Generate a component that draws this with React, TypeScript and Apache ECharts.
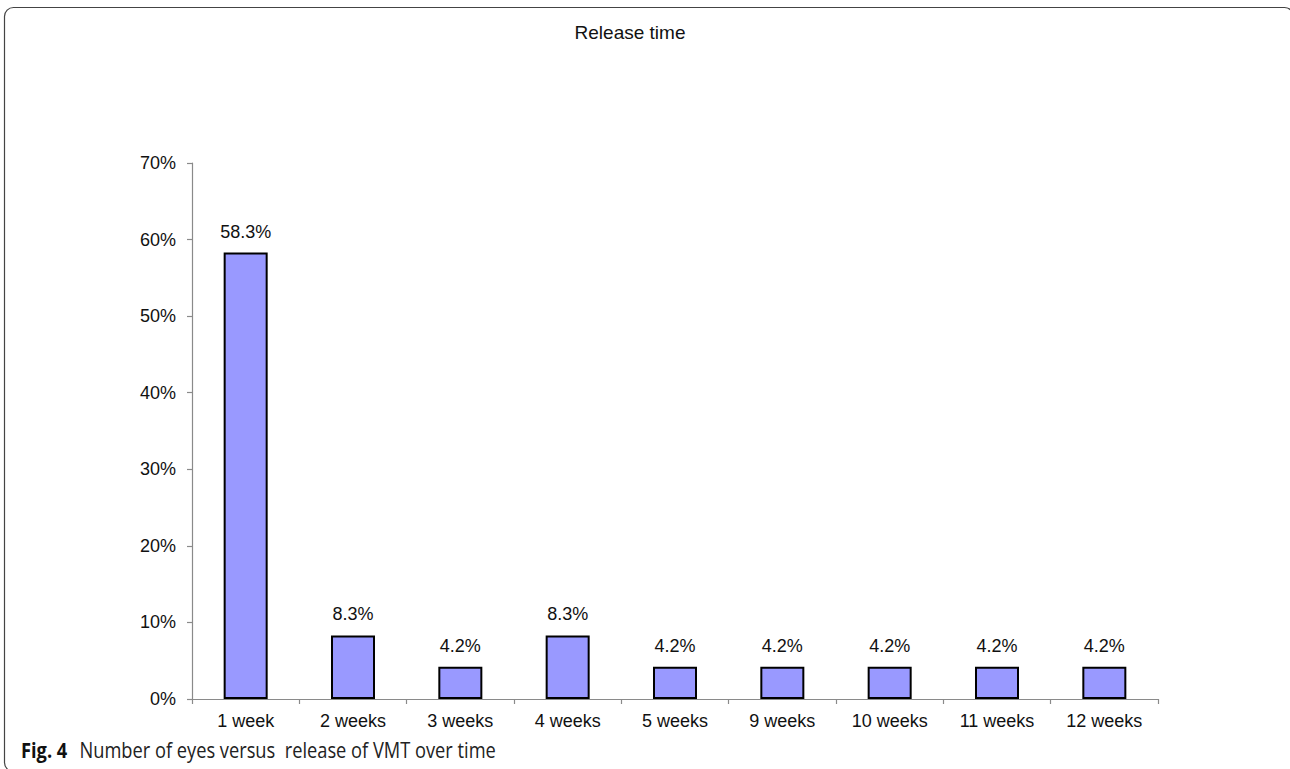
import React, { useEffect, useRef } from "react";
import * as echarts from "echarts";

const categories = [
  "1 week",
  "2 weeks",
  "3 weeks",
  "4 weeks",
  "5 weeks",
  "9 weeks",
  "10 weeks",
  "11 weeks",
  "12 weeks",
];
const percentages = [58.3, 8.3, 4.2, 8.3, 4.2, 4.2, 4.2, 4.2, 4.2];
const yTicks = [0, 10, 20, 30, 40, 50, 60, 70];

const chartTitle = "Release time";
const captionLead = "Fig. 4";
const captionText = "Number of eyes versus  release of VMT over time";

const FONT = "'Liberation Sans', Arial, sans-serif";
const CAPTION_FONT = "'Open Sans', 'Noto Sans', sans-serif";

export default function App() {
  const ref = useRef<HTMLDivElement>(null);

  useEffect(() => {
    if (!ref.current) return;
    const chart = echarts.init(ref.current, undefined, { renderer: "svg" });
    chart.setOption({
      animation: false,
      backgroundColor: "#ffffff",
      grid: { left: 192, right: 132, top: 163, bottom: 70 },
      xAxis: {
        type: "category",
        data: categories,
        boundaryGap: true,
        axisLine: { show: true, lineStyle: { color: "#8a8a8a", width: 1.2 } },
        axisTick: { show: true, length: 5, alignWithLabel: false, lineStyle: { color: "#8a8a8a", width: 1.2 } },
        axisLabel: { color: "#111", fontSize: 18, fontFamily: FONT, margin: 13 },
        splitLine: { show: false },
      },
      yAxis: {
        type: "value",
        min: yTicks[0],
        max: yTicks[yTicks.length - 1],
        interval: 10,
        axisLine: { show: true, lineStyle: { color: "#8a8a8a", width: 1.2 } },
        axisTick: { show: true, length: 5, lineStyle: { color: "#8a8a8a", width: 1.2 } },
        axisLabel: {
          color: "#111",
          fontSize: 18,
          fontFamily: FONT,
          margin: 16,
          formatter: (v: number) => `${v}%`,
        },
        splitLine: { show: false },
      },
      series: [
        {
          type: "bar",
          data: percentages,
          barWidth: "41%",
          itemStyle: { color: "#9999ff", borderColor: "#000", borderWidth: 2 },
          label: {
            show: true,
            position: "top",
            distance: 12,
            color: "#111",
            fontSize: 18,
            fontFamily: FONT,
            formatter: (p: any) => `${p.value.toFixed(1)}%`,
          },
        },
      ],
      graphic: [
        {
          type: "rect",
          silent: true,
          shape: { x: 4.5, y: 7.5, width: 1289, height: 764, r: 9 },
          style: { fill: "none", stroke: "#444", lineWidth: 1.2 },
          z: -1,
        },
        {
          type: "text",
          x: 630,
          y: 32,
          style: {
            text: chartTitle,
            fill: "#111",
            fontSize: 19,
            fontFamily: FONT,
            align: "center",
            verticalAlign: "middle",
          },
        },
        {
          type: "text",
          x: 21,
          y: 749,
          scaleX: 0.83,
          style: {
            text: `{b|${captionLead}}  {n|${captionText}}`,
            verticalAlign: "middle",
            rich: {
              b: { fontSize: 22, fontWeight: "bold", fill: "#111", fontFamily: CAPTION_FONT, padding: [0, 8, 0, 0] },
              n: { fontSize: 22, fill: "#222", fontFamily: CAPTION_FONT },
            },
          },
        },
      ],
    });
    return () => chart.dispose();
  }, []);

  return (
    <div
      ref={ref}
      style={{ position: "fixed", left: 0, top: 0, width: 1290, height: 769, background: "#fff" }}
    />
  );
}
